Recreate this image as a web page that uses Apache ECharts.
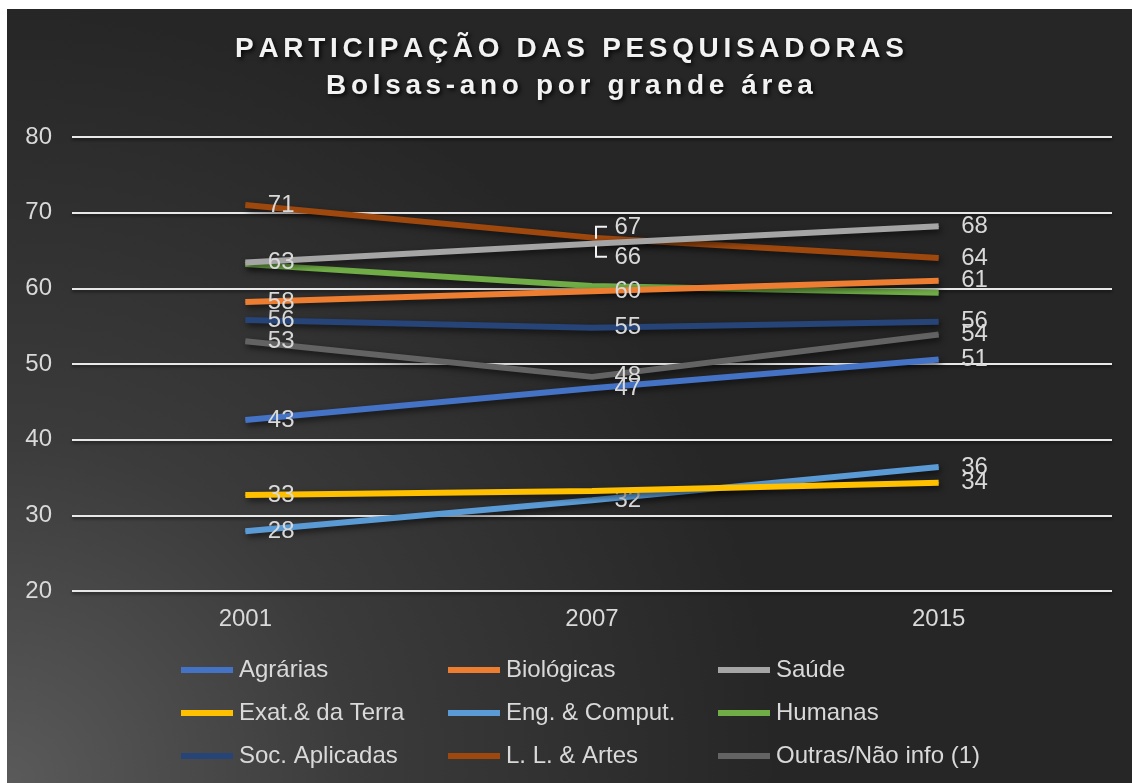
<!DOCTYPE html>
<html>
<head>
<meta charset="utf-8">
<title>Participação das pesquisadoras</title>
<script src="https://cdn.jsdelivr.net/npm/echarts@6/dist/echarts.min.js"></script>
<style>
  html, body { margin: 0; padding: 0; background: #fff; }
  #chart { position: absolute; left: 7px; top: 9px; width: 1125px; height: 774px; }
</style>
</head>
<body>
<div id="chart"></div>
<script>
// dados
const years = ['2001', '2007', '2015'];
const yTicks = [20, 30, 40, 50, 60, 70, 80];

const agrarias = [42.6, 46.8, 50.6];
const biologicas = [58.2, 59.6, 61.0];
const saude = [63.4, 65.9, 68.2];
const exatas = [32.7, 33.2, 34.3];
const engenharia = [27.9, 32.0, 36.4];
const humanas = [63.2, 60.3, 59.4];
const sociais = [55.8, 54.8, 55.6];
const letras = [71.0, 66.7, 64.0];
const outras = [53.0, 48.3, 53.9];

const names = ['Agrárias', 'Biológicas', 'Saúde', 'Exat.& da Terra', 'Eng. & Comput.',
  'Humanas', 'Soc. Aplicadas', 'L. L. & Artes', 'Outras/Não info (1)'];
const colors = ['#4472C4', '#ED7D31', '#A5A5A5', '#FFC000', '#5B9BD5',
  '#70AD47', '#264478', '#9E480E', '#636363'];
const values = [agrarias, biologicas, saude, exatas, engenharia, humanas, sociais, letras, outras];
// which labels are visible (Excel hides some overlapping ones)
const showLabels = [
  [1, 1, 1], [1, 1, 1], [1, 1, 1], [1, 0, 1], [1, 1, 1],
  [0, 0, 0], [1, 1, 1], [1, 1, 1], [1, 1, 1]
];
// small nudges for the two labels at 2007 that Excel pulled apart
const labelNudge = { '7-1': [0, -10], '2-1': [0, 14] };

const titleLines = ['PARTICIPAÇÃO DAS PESQUISADORAS', 'Bolsas-ano por grande área'];

const textColor = '#d9d9d9';
const font = 'Liberation Sans, Arial, sans-serif';

// the title in the original has expanded character spacing;
// zrender has no letter-spacing, so put a six-per-em space between letters
function spaced(s) {
  return Array.from(s).join('\u2006');
}

const series = names.map((name, i) => ({
  name: name,
  type: 'line',
  symbol: 'circle',
  symbolSize: 1,
  itemStyle: { color: colors[i] },
  lineStyle: {
    width: 6,
    color: colors[i],
    shadowColor: 'rgba(0,0,0,0.6)',
    shadowBlur: 6,
    shadowOffsetX: 2,
    shadowOffsetY: 3
  },
  emphasis: { disabled: true },
  z: 10 - i,
  data: values[i].map((v, j) => ({
    value: v,
    label: {
      show: !!showLabels[i][j],
      offset: labelNudge[i + '-' + j] || [0, 0]
    }
  })),
  label: {
    position: 'right',
    distance: 22,
    color: textColor,
    fontSize: 24,
    fontFamily: font,
    formatter: p => Math.round(p.value)
  }
}));

const legendCols = [[0, 3, 6], [1, 4, 7], [2, 5, 8]];
const legendLeft = [174, 441, 711];
const legends = legendCols.map((col, k) => ({
  orient: 'vertical',
  left: legendLeft[k],
  top: 649,
  icon: 'rect',
  itemWidth: 52,
  itemHeight: 6,
  itemGap: 19,
  padding: 0,
  selectedMode: false,
  data: col.map(i => names[i]),
  textStyle: {
    color: textColor,
    fontSize: 24,
    lineHeight: 24,
    fontFamily: font,
    padding: [0, 0, 0, 1]
  }
}));

const chart = echarts.init(document.getElementById('chart'));
chart.setOption({
  animation: false,
  backgroundColor: {
    type: 'radial',
    x: 0, y: 1, r: 1,
    colorStops: [
      { offset: 0, color: '#5a5a5a' },
      { offset: 0.45, color: '#3b3b3b' },
      { offset: 1, color: '#262626' }
    ]
  },
  title: {
    text: titleLines.map(spaced).join('\n'),
    left: 'center',
    top: 17,
    textStyle: {
      color: '#f2f2f2',
      fontSize: 28,
      fontWeight: 'bold',
      lineHeight: 37,
      fontFamily: font,
      textShadowColor: 'rgba(0,0,0,0.85)',
      textShadowBlur: 4,
      textShadowOffsetX: 2,
      textShadowOffsetY: 2
    }
  },
  legend: legends,
  grid: { left: 65, right: 20, top: 128, bottom: 192 },
  xAxis: {
    type: 'category',
    data: years,
    boundaryGap: true,
    axisLine: { show: false },
    axisTick: { show: false },
    axisLabel: {
      color: textColor,
      fontSize: 24,
      margin: 16,
      fontFamily: font
    }
  },
  yAxis: {
    type: 'value',
    min: yTicks[0],
    max: yTicks[yTicks.length - 1],
    interval: 10,
    axisLine: { show: false },
    axisTick: { show: false },
    axisLabel: {
      color: textColor,
      fontSize: 24,
      margin: 20,
      fontFamily: font
    },
    splitLine: {
      lineStyle: {
        color: '#e8e8e8',
        width: 2,
        shadowColor: 'rgba(0,0,0,0.5)',
        shadowBlur: 3,
        shadowOffsetY: 2
      }
    }
  },
  series: series
});

// leader brackets for the 67 / 66 labels at 2007
const pLL = chart.convertToPixel({ seriesIndex: 7 }, [1, letras[1]]);
const pSa = chart.convertToPixel({ seriesIndex: 2 }, [1, saude[1]]);
const leader = { stroke: '#f2f2f2', lineWidth: 2, fill: null };
chart.setOption({
  graphic: [
    {
      type: 'polyline', z: 100,
      shape: { points: [[pLL[0] + 15, pLL[1] - 11], [pLL[0] + 4, pLL[1] - 11], [pLL[0] + 4, pLL[1] + 1]] },
      style: leader
    },
    {
      type: 'polyline', z: 100,
      shape: { points: [[pSa[0] + 4, pSa[1] + 2], [pSa[0] + 4, pSa[1] + 13], [pSa[0] + 15, pSa[1] + 13]] },
      style: leader
    }
  ]
});
</script>
</body>
</html>
